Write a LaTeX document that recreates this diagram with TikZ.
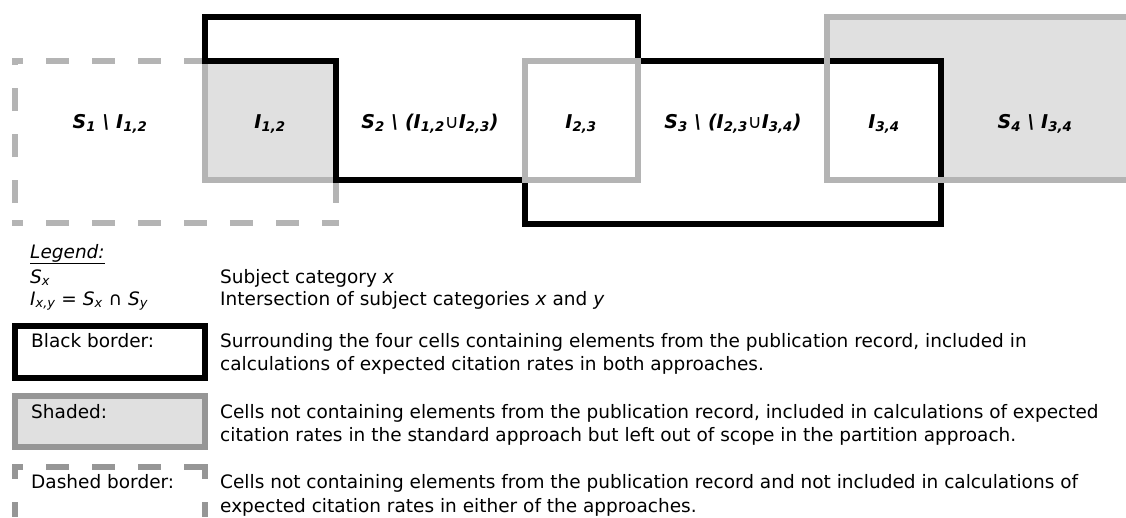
\documentclass[tikz,border=0pt]{standalone}
\usepackage{fontspec}
\setmainfont{DejaVu Sans}
\definecolor{gborder}{HTML}{B4B4B4}
\definecolor{gfill}{HTML}{E0E0E0}
\definecolor{lgborder}{HTML}{969696}
\newcommand\subsc[1]{\textsubscript{#1}}
\begin{document}
\begin{tikzpicture}[x=1pt,y=-1pt,
  blackline/.style={line width=6pt, draw=black, line join=miter},
  grayline/.style={line width=6pt, draw=gborder},
  dashline/.style={line width=6pt, draw=gborder, dash pattern=on 23pt off 23pt},
  ldashline/.style={line width=6pt, draw=lgborder, dash pattern=on 23pt off 23pt},
  cell/.style={font=\fontsize{19}{22}\selectfont\bfseries\itshape, inner sep=0pt, anchor=base},
  legtext/.style={font=\fontsize{18.5}{22}\selectfont, inner sep=0pt, anchor=base west}]
\useasboundingbox (0,0) rectangle (1126,517);
% shaded fills
\fill[gfill] (205,61) rectangle (336,180);
\fill[gfill] (827,17) -- (1130,17) -- (1130,180) -- (941,180) -- (941,61) -- (827,61) -- cycle;
% dashed border of S1 \ I12
\draw[dashline, dash phase=12pt] (12,61) -- (205,61);
\draw[dashline, dash phase=23pt] (15,226) -- (15,58);
\draw[dashline, dash phase=12pt] (12,223) -- (339,223);
\draw[dashline] (336,180) -- (336,226);
% I12 grey border
\draw[grayline] (205,61) rectangle (336,180);
% black border
\draw[blackline] (205,17) -- (638,17) -- (638,61) -- (941,61) -- (941,224) -- (525,224) -- (525,180) -- (336,180) -- (336,61) -- (205,61) -- cycle;
% I23 and S4 grey borders
\draw[grayline] (525,61) rectangle (638,180);
\draw[grayline] (1130,17) -- (827,17) -- (827,180) -- (1130,180);
% cell labels
\node[cell] (s1) at (110,128) {S\subsc{1} \textbackslash{} I\subsc{1,2}};
\node[cell] (i12) at (270,128) {I\subsc{1,2}};
\node[cell] (s2) at (430,128) {S\subsc{2} \textbackslash{} (I\subsc{1,2}{\mdseries∪}I\subsc{2,3})};
\node[cell] (i23) at (581,128) {I\subsc{2,3}};
\node[cell] (s3) at (733,128) {S\subsc{3} \textbackslash{} (I\subsc{2,3}{\mdseries∪}I\subsc{3,4})};
\node[cell] (i34) at (884,128) {I\subsc{3,4}};
\node[cell] (s4) at (1035,128) {S\subsc{4} \textbackslash{} I\subsc{3,4}};
% legend
\node[legtext] (leg) at (30,258) {\underline{\textit{Legend:}}};
\node[legtext] (sx) at (30,283) {\textit{S\subsc{x}}};
\node[legtext] (ixy) at (30,305) {\textit{I\subsc{x,y}} = \textit{S\subsc{x}} ∩ \textit{S\subsc{y}}};
\node[legtext] (sxd) at (220,283) {Subject category \textit{x}};
\node[legtext] (ixyd) at (220,305) {Intersection of subject categories \textit{x} and \textit{y}};
% legend: black border
\draw[line width=6pt, draw=black] (15,326) rectangle (205,378);
\node[legtext] (bb) at (31,347) {Black border:};
\node[legtext] (bbd1) at (220,347) {Surrounding the four cells containing elements from the publication record, included in};
\node[legtext] (bbd2) at (220,370) {calculations of expected citation rates in both approaches.};
% legend: shaded
\draw[line width=6pt, draw=lgborder, fill=gfill] (15,396) rectangle (205,447);
\node[legtext] (sh) at (31,418) {Shaded:};
\node[legtext] (shd1) at (220,418) {Cells not containing elements from the publication record, included in calculations of expected};
\node[legtext] (shd2) at (220,441) {citation rates in the standard approach but left out of scope in the partition approach.};
% legend: dashed
\draw[ldashline, dash phase=12pt] (12,467) -- (208,467);
\draw[ldashline, dash phase=8pt] (15,464) -- (15,517);
\draw[ldashline, dash phase=8pt] (205,464) -- (205,517);
\node[legtext] (db) at (31,488) {Dashed border:};
\node[legtext] (dbd1) at (220,488) {Cells not containing elements from the publication record and not included in calculations of};
\node[legtext] (dbd2) at (220,512) {expected citation rates in either of the approaches.};
\end{tikzpicture}
\end{document}
